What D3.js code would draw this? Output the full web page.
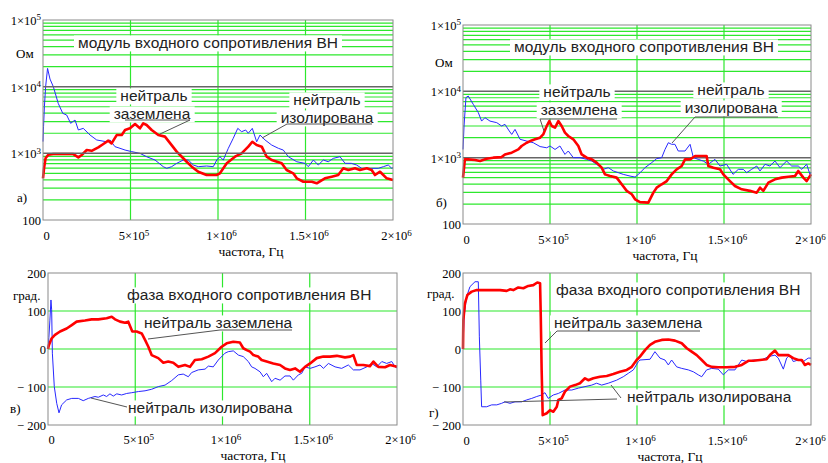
<!DOCTYPE html>
<html>
<head>
<meta charset="utf-8">
<script src="https://cdn.jsdelivr.net/npm/d3@7"></script>
<style>
body { margin: 0; background: #fff; }
svg { display: block; }
.tick text { font-family: "Liberation Serif", "Times New Roman", serif; font-size: 12.5px; fill: #000; }
.note { font-family: "Liberation Sans", Arial, sans-serif; font-size: 15.5px; fill: #222; }
.serif { font-family: "Liberation Serif", "Times New Roman", serif; font-size: 13px; fill: #000; }
</style>
</head>
<body>
<svg width="828" height="463"></svg>
<script>
// frequency in kHz, impedance in Ohm, phase in degrees
const freqTicks = [0, 500, 1000, 1500, 2000];
const freqTickLabels = [["0"], ["5×10", "5"], ["1×10", "6"], ["1.5×10", "6"], ["2×10", "6"]];
const magTicks = [100, 1e3, 1e4, 1e5];
const magTickLabels = [["100"], ["1×10", "3"], ["1×10", "4"], ["1×10", "5"]];
const phaseTicks = [200, 100, 0, -100, -200];
const phaseTickLabels = [["200"], ["100"], ["0"], ["− 100"], ["− 200"]];

// а) модуль, трансформатор 1
const magA_isol = [[0,1500],[3,2500],[8,5000],[15,10000],[26,18800],[40,13000],[59,10000],[87,5620],[113,3980],[135,3760],[158,2820],[183,3160],[202,2240],[230,2370],[269,1880],[307,1585],[364,1490],[383,1585],[411,1260],[440,1190],[469,1120],[507,1060],[554,1000],[592,890],[640,794],[687,631],[707,596],[735,631],[764,708],[802,794],[830,794],[859,668],[887,631],[935,645],[973,631],[993,794],[1011,890],[1030,794],[1059,1190],[1087,1680],[1113,2370],[1135,2110],[1158,2240],[1173,2000],[1196,2370],[1221,1490],[1240,1880],[1269,1585],[1307,1330],[1345,1190],[1373,1120],[1402,890],[1450,748],[1497,708],[1516,631],[1545,794],[1573,668],[1602,794],[1630,748],[1659,841],[1697,890],[1726,708],[1762,708],[1792,668],[1821,596],[1878,596],[1916,596],[1945,631],[1973,668],[1993,596],[2000,610]];
const magA_grnd = [[0,420],[6,600],[15,850],[30,950],[59,976],[135,976],[173,976],[202,871],[221,943],[250,1120],[278,1090],[316,1230],[345,1380],[373,1550],[392,1410],[421,1880],[450,1880],[469,2240],[497,2370],[526,2750],[554,2370],[573,2820],[592,2660],[621,2240],[659,1880],[697,1780],[735,1330],[764,1060],[793,890],[821,748],[850,631],[887,530],[935,473],[992,473],[1011,501],[1050,708],[1097,890],[1135,1000],[1173,1260],[1196,1490],[1221,1330],[1250,1260],[1278,890],[1307,794],[1364,708],[1392,562],[1430,501],[1450,422],[1488,375],[1536,375],[1564,355],[1611,422],[1650,447],[1687,473],[1716,596],[1745,562],[1783,596],[1811,562],[1850,596],[1878,562],[1897,473],[1926,530],[1964,422],[2000,398]];

// б) модуль, трансформатор 2
const magB_isol = [[0,1330],[6,3000],[17,8040],[30,8500],[59,6370],[88,4780],[107,3560],[126,4010],[155,3560],[194,3370],[222,3000],[241,3180],[266,2520],[280,2240],[299,2670],[328,1890],[366,1780],[404,1680],[443,1470],[481,1410],[500,1500],[529,1330],[557,1500],[586,1120],[605,1260],[634,1000],[672,1000],[711,943],[740,890],[768,794],[806,667],[835,707],[864,630],[893,594],[921,560],[960,528],[989,510],[1017,590],[1046,707],[1084,840],[1113,966],[1142,1000],[1161,1330],[1180,1680],[1199,1590],[1218,1590],[1237,1260],[1276,1260],[1305,1590],[1324,1000],[1352,943],[1381,890],[1410,794],[1448,943],[1477,748],[1515,794],[1552,560],[1582,667],[1611,667],[1630,594],[1659,667],[1688,748],[1707,630],[1736,794],[1764,748],[1793,890],[1822,707],[1860,890],[1889,748],[1927,748],[1947,667],[1975,794],[1994,560],[2000,600]];
const magB_grnd = [[0,500],[11,943],[30,943],[69,920],[98,890],[136,966],[174,1000],[222,1020],[241,1120],[280,1190],[318,1330],[337,1500],[366,1680],[395,1820],[414,1890],[443,2000],[461,2240],[481,3000],[496,3560],[510,3000],[529,2830],[548,3560],[567,3000],[586,2380],[605,2120],[634,1890],[663,1500],[682,1120],[711,1000],[740,943],[768,840],[797,707],[816,560],[845,528],[883,500],[912,397],[941,316],[970,281],[989,236],[1017,214],[1065,210],[1094,297],[1113,353],[1142,397],[1171,444],[1199,560],[1228,667],[1257,748],[1276,943],[1305,943],[1334,1060],[1372,1060],[1400,1060],[1410,748],[1439,707],[1477,667],[1496,560],[1534,444],[1563,374],[1602,333],[1649,316],[1688,297],[1707,353],[1726,316],[1755,420],[1793,471],[1832,500],[1870,517],[1908,528],[1927,630],[1956,500],[1975,444],[2000,560]];

// в) фаза, трансформатор 1
const phaseV_isol = [[0,0],[5,30],[11,76],[17,129],[21,103],[25,-11],[36,-99],[50,-143],[63,-168],[78,-147],[107,-134],[136,-130],[174,-130],[202,-136],[231,-130],[269,-125],[288,-127],[317,-121],[336,-125],[355,-118],[374,-124],[394,-118],[422,-121],[451,-117],[480,-115],[518,-112],[556,-110],[594,-106],[632,-99],[671,-95],[709,-83],[747,-68],[775,-66],[804,-73],[823,-62],[861,-55],[900,-53],[919,-45],[947,-47],[976,-29],[1014,-11],[1033,-7],[1062,-5],[1091,-16],[1119,-20],[1148,-33],[1167,-47],[1186,-51],[1215,-60],[1234,-73],[1253,-64],[1282,-86],[1301,-77],[1330,-82],[1358,-71],[1387,-71],[1406,-82],[1435,-68],[1454,-64],[1473,-47],[1502,-51],[1530,-47],[1559,-42],[1578,-51],[1607,-38],[1645,-47],[1683,-51],[1721,-42],[1750,-55],[1788,-55],[1827,-47],[1855,-38],[1884,-47],[1913,-33],[1941,-38],[1970,-33],[1989,-47],[2000,-50]];
const phaseV_grnd = [[0,0],[5,10],[21,28],[40,37],[69,46],[107,54],[136,63],[164,72],[212,75],[250,78],[288,78],[336,81],[365,85],[384,78],[413,72],[441,69],[460,72],[483,46],[508,46],[537,41],[556,24],[575,6],[594,-16],[632,-24],[661,-36],[689,-33],[718,-36],[747,-47],[785,-42],[814,-47],[842,-29],[881,-27],[919,-20],[957,-11],[995,6],[1024,15],[1062,19],[1100,17],[1119,2],[1139,-3],[1158,-7],[1177,-16],[1205,-20],[1224,-29],[1253,-33],[1291,-38],[1330,-42],[1358,-51],[1387,-55],[1416,-51],[1444,-60],[1473,-47],[1502,-38],[1540,-24],[1578,-20],[1616,-20],[1655,-18],[1702,-22],[1731,-20],[1750,-16],[1769,-42],[1807,-42],[1845,-45],[1865,-33],[1893,-47],[1931,-48],[1960,-42],[2000,-47]];

// г) фаза, трансформатор 2
const phaseG_isol = [[0,0],[6,85],[21,138],[40,164],[69,177],[88,177],[94,32],[102,-82],[107,-152],[136,-152],[165,-147],[194,-147],[222,-143],[241,-139],[270,-143],[299,-139],[337,-139],[366,-134],[395,-130],[424,-125],[452,-121],[471,-115],[490,-130],[519,-121],[548,-117],[586,-108],[625,-108],[663,-103],[701,-99],[740,-95],[768,-90],[797,-95],[835,-90],[883,-82],[921,-73],[950,-64],[979,-55],[1008,-33],[1017,-29],[1075,-27],[1103,-7],[1132,-24],[1161,-29],[1180,-42],[1199,-29],[1228,-47],[1257,-51],[1295,-55],[1324,-60],[1352,-68],[1372,-73],[1400,-55],[1429,-51],[1467,-53],[1496,-68],[1525,-55],[1563,-55],[1582,-42],[1602,-29],[1630,-33],[1669,-29],[1716,-29],[1755,-20],[1793,-16],[1812,-24],[1841,-53],[1860,-24],[1879,-16],[1898,-33],[1927,-29],[1956,-33],[1984,-24],[2000,-24]];
const phaseG_grnd = [[0,0],[2,76],[11,120],[25,142],[50,151],[79,155],[136,155],[213,155],[251,153],[270,157],[289,155],[318,162],[347,160],[375,166],[404,168],[427,175],[443,173],[447,85],[452,-55],[458,-174],[481,-169],[500,-161],[519,-165],[539,-152],[548,-134],[567,-130],[586,-112],[615,-99],[644,-95],[672,-90],[701,-77],[720,-82],[749,-77],[787,-73],[826,-71],[864,-66],[902,-60],[941,-55],[970,-47],[998,-29],[1017,-20],[1046,-3],[1075,11],[1103,19],[1142,24],[1180,25],[1218,22],[1257,15],[1286,2],[1314,-7],[1343,-16],[1372,-29],[1400,-42],[1429,-47],[1467,-48],[1515,-48],[1563,-47],[1602,-42],[1640,-31],[1669,-31],[1707,-29],[1745,-27],[1764,-16],[1793,-4],[1812,-16],[1841,-16],[1870,-16],[1898,-24],[1927,-29],[1947,-29],[1965,-42],[1984,-38],[2000,-42]];

const svg = d3.select("svg");
const green = "#2de82d";
const decadeColor = "#666";

const panels = [
  { log: true, left: 43, right: 393, top: 20, bottom: 220, xTickY: 236, xLabel: [251, 251], unit: ["Ом", 16, 53], tag: ["а)", 17, 197],
    isol: magA_isol, grnd: magA_grnd, decadeOnTop: true,
    notes: [
      { anchor: "start", lines: [["модуль входного сопротивления ВН", 78, 43]] },
      { anchor: "middle", lines: [["нейтраль", 154, 96], ["заземлена", 152, 114]] },
      { anchor: "middle", lines: [["нейтраль", 327, 100], ["изолирована", 327, 118]] }
    ],
    leaders: [[[160, 134], [190, 120], [125, 120]], [[262, 138], [287, 124], [372, 124]]] },
  { log: true, left: 463, right: 811, top: 25, bottom: 224, xTickY: 240, xLabel: [665, 255], unit: ["Ом", 435, 62], tag: ["б)", 436, 202],
    isol: magB_isol, grnd: magB_grnd, decadeOnTop: false,
    notes: [
      { anchor: "start", lines: [["модуль входного сопротивления ВН", 514, 47]] },
      { anchor: "middle", lines: [["нейтраль", 577, 92], ["заземлена", 579, 110]] },
      { anchor: "middle", lines: [["нейтраль", 731, 90], ["изолирована", 731, 108]] }
    ],
    leaders: [[[544, 131], [540, 119], [617, 119]], [[672, 143], [695, 117], [778, 117]]] },
  { log: false, left: 48, right: 397, top: 273, bottom: 425, xTickY: 440, xLabel: [253, 455], unit: ["град.", 13, 295], tag: ["в)", 10, 408],
    isol: phaseV_isol, grnd: phaseV_grnd, decadeOnTop: false,
    notes: [
      { anchor: "start", lines: [["фаза входного сопротивления ВН", 127, 295]] },
      { anchor: "start", lines: [["нейтраль заземлена", 144, 323]] },
      { anchor: "start", lines: [["нейтраль изолирована", 128, 408]] }
    ],
    leaders: [[[148, 339], [220, 330], [292, 330]], [[91, 398], [127, 407]]] },
  { log: false, left: 463, right: 811, top: 273, bottom: 425, xTickY: 441, xLabel: [670, 456], unit: ["град.", 427, 293], tag: ["г)", 429, 412],
    isol: phaseG_isol, grnd: phaseG_grnd, decadeOnTop: false,
    notes: [
      { anchor: "start", lines: [["фаза входного сопротивления ВН", 556, 290]] },
      { anchor: "start", lines: [["нейтраль заземлена", 554, 323]] },
      { anchor: "start", lines: [["нейтраль изолирована", 627, 397]] }
    ],
    leaders: [[[545, 343], [557, 331], [700, 331]], [[504, 402], [617, 399]], [[611, 385], [621, 398]]] }
];

function supText(sel, parts) {
  sel.text(null);
  sel.append("tspan").text(parts[0]);
  if (parts[1]) sel.append("tspan").attr("dy", "-0.5em").attr("font-size", "9px").text(parts[1]);
}

function drawPanel(p) {
  const x = d3.scaleLinear().domain([0, 2000]).range([p.left, p.right]);
  const y = p.log
    ? d3.scaleLog().domain([100, 1e5]).range([p.bottom, p.top])
    : d3.scaleLinear().domain([-200, 200]).range([p.bottom, p.top]);

  const g = svg.append("g");
  const grid = g.append("g");
  const boxes = g.append("g");
  const curves = g.append("g");
  const decades = g.append("g");
  const ann = g.append("g");

  // grid
  freqTicks.slice(1, -1).forEach(f => {
    grid.append("line").attr("x1", x(f)).attr("x2", x(f)).attr("y1", p.top).attr("y2", p.bottom)
      .attr("stroke", green).attr("stroke-width", 1.2);
  });
  if (p.log) {
    [100, 1e3, 1e4].forEach(d => {
      for (let k = 2; k <= 9; k++) {
        grid.append("line").attr("x1", p.left).attr("x2", p.right).attr("y1", y(d * k)).attr("y2", y(d * k))
          .attr("stroke", green).attr("stroke-width", 1.2);
      }
    });
    [1e3, 1e4].forEach(d => {
      (p.decadeOnTop ? decades : grid).append("line").attr("x1", p.left).attr("x2", p.right)
        .attr("y1", y(d)).attr("y2", y(d)).attr("stroke", decadeColor).attr("stroke-width", 1.5);
    });
  } else {
    [100, 0, -100].forEach(v => {
      grid.append("line").attr("x1", p.left).attr("x2", p.right).attr("y1", y(v)).attr("y2", y(v))
        .attr("stroke", green).attr("stroke-width", 1.2);
    });
  }

  // curves
  const line = d3.line().x(d => x(d[0])).y(d => y(d[1]));
  curves.append("path").datum(p.isol).attr("d", line).attr("fill", "none")
    .attr("stroke", "#2828ff").attr("stroke-width", 1);
  curves.append("path").datum(p.grnd).attr("d", line).attr("fill", "none")
    .attr("stroke", "#ff0000").attr("stroke-width", 2.6).attr("stroke-linejoin", "round");

  // frame
  g.append("rect").attr("x", p.left).attr("y", p.top).attr("width", p.right - p.left).attr("height", p.bottom - p.top)
    .attr("fill", "none").attr("stroke", "#8a8a8a").attr("stroke-width", 1);

  // axes
  const xAxis = g.append("g").attr("transform", `translate(0,${p.xTickY})`)
    .call(d3.axisBottom(x).tickValues(freqTicks).tickSize(0).tickPadding(0).tickFormat(""));
  xAxis.select(".domain").remove();
  xAxis.selectAll(".tick text").attr("y", 0).attr("dy", "0.35em")
    .attr("dx", (d, i) => (p.right > 800 && i === freqTicks.length - 1) ? -1 : 3)
    .each(function(d, i) { supText(d3.select(this), freqTickLabels[i]); });

  const yTicks = p.log ? magTicks : phaseTicks;
  const yLabels = p.log ? magTickLabels : phaseTickLabels;
  const yAxis = g.append("g").attr("transform", `translate(${p.left - 2},0)`)
    .call(d3.axisLeft(y).tickValues(yTicks).tickSize(0).tickPadding(0).tickFormat(""));
  yAxis.select(".domain").remove();
  yAxis.selectAll(".tick text").attr("dy", "0.35em")
    .each(function(d, i) { supText(d3.select(this), yLabels[i]); });

  g.append("text").attr("class", "serif").attr("x", p.xLabel[0]).attr("y", p.xLabel[1]).attr("dy", "0.35em")
    .attr("text-anchor", "middle").style("font-size", "13.5px").text("частота, Гц");
  g.append("text").attr("class", "serif").attr("x", p.unit[1]).attr("y", p.unit[2]).attr("dy", "0.35em").text(p.unit[0]);
  g.append("text").attr("class", "serif").attr("x", p.tag[1]).attr("y", p.tag[2]).attr("dy", "0.35em").text(p.tag[0]);

  // leaders
  p.leaders.forEach(pts => {
    ann.append("polyline").attr("points", pts.map(q => q.join(",")).join(" "))
      .attr("fill", "none").attr("stroke", "#555").attr("stroke-width", 1);
  });

  // notes with white boxes
  p.notes.forEach(n => {
    n.lines.forEach(l => {
      const t = ann.append("text").attr("class", "note").attr("x", l[1]).attr("y", l[2]).attr("dy", "0.35em")
        .attr("text-anchor", n.anchor).text(l[0]);
      const b = t.node().getBBox();
      boxes.append("rect").attr("x", b.x - 4).attr("y", b.y + 1).attr("width", b.width + 8).attr("height", b.height - 1)
        .attr("fill", "#fff");
    });
  });
}

panels.forEach(drawPanel);
</script>
</body>
</html>
